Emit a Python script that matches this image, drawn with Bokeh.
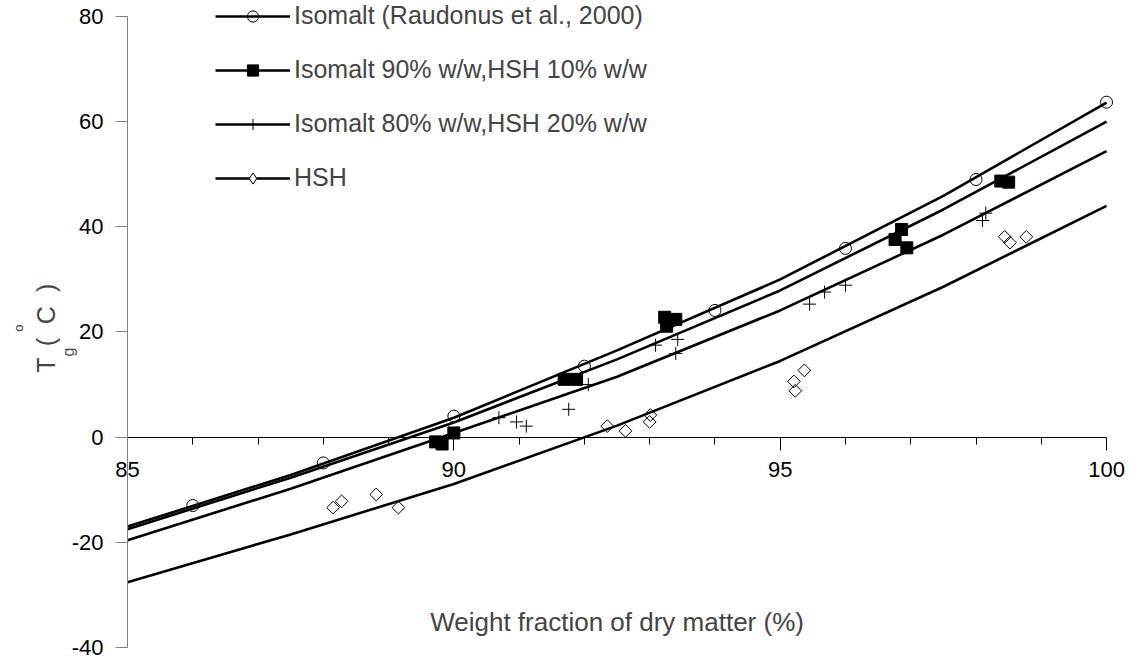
from math import pi
from bokeh.plotting import figure
from bokeh.models import Label, Legend, LegendItem, FixedTicker
from bokeh.embed import file_html
from bokeh.resources import INLINE

# fitted curves
curve_x = [85, 87.5, 90, 92.5, 95, 97.5, 100]
fit_isomalt = [-17.0, -7.2, 3.7, 16.5, 30.0, 45.9, 63.6]
fit_90 = [-17.5, -7.7, 2.8, 14.8, 27.9, 43.3, 60.0]
fit_80 = [-19.6, -9.8, 0.8, 11.5, 24.1, 38.5, 54.4]
fit_hsh = [-27.6, -18.5, -8.9, 2.2, 14.5, 28.6, 44.0]

# measured points
iso_x = [86, 88, 90, 92, 94, 96, 98, 100]
iso_y = [-13.0, -4.9, 4.0, 13.5, 24.1, 35.9, 49.0, 63.7]

m90_x = [89.72, 89.82, 90.0, 91.69, 91.88, 93.23, 93.26, 93.4, 96.76, 96.86, 96.94, 98.38, 98.5]
m90_y = [-0.9, -1.3, 0.8, 11.0, 11.0, 22.8, 21.1, 22.4, 37.6, 39.5, 36.0, 48.7, 48.5]

m80_x = [90.69, 90.96, 91.11, 91.76, 92.06, 93.09, 93.43, 93.4, 95.45, 95.68, 96.0, 98.1, 98.15]
m80_y = [3.7, 2.9, 2.1, 5.3, 10.0, 17.5, 18.6, 15.9, 25.3, 27.6, 28.9, 41.2, 42.6]

hsh_x = [88.15, 88.28, 88.81, 89.15, 92.35, 92.63, 93.0, 93.01, 95.21, 95.23, 95.37, 98.44, 98.52, 98.77]
hsh_y = [-13.4, -12.2, -10.9, -13.4, 2.1, 1.2, 2.9, 4.2, 10.6, 8.8, 12.7, 38.1, 37.0, 38.1]

labels = ["Isomalt (Raudonus et al., 2000)", "Isomalt 90% w/w,HSH 10% w/w",
          "Isomalt 80% w/w,HSH 20% w/w", "HSH"]

x_major = [85, 90, 95, 100]
x_minor = [86, 87, 88, 89, 91, 92, 93, 94, 96, 97, 98, 99]
y_major = [-40, -20, 0, 20, 40, 60, 80]

FONT = "Liberation Sans"
TICK_FS = "22px"
TEXT_FS = "25px"

p = figure(width=1130, height=660, x_range=(83.054, 100.367), y_range=(-42.47, 83.04),
           output_backend="svg", toolbar_location=None,
           min_border_left=0, min_border_right=0, min_border_top=0, min_border_bottom=0)
p.outline_line_color = None
p.xgrid.visible = False
p.ygrid.visible = False
p.background_fill_color = "white"

xa = p.xaxis[0]
xa.fixed_location = 0
xa.bounds = (85, 100)
xa.ticker = FixedTicker(ticks=x_major, minor_ticks=x_minor)
xa.major_tick_out = 13
xa.major_tick_in = 0
xa.minor_tick_out = 7
xa.minor_tick_in = 0
xa.axis_line_color = "black"
xa.major_tick_line_color = "black"
xa.minor_tick_line_color = "black"
xa.major_label_text_font = FONT
xa.major_label_text_font_size = TICK_FS
xa.major_label_text_color = "black"
xa.major_label_standoff = 12

ya = p.yaxis[0]
ya.fixed_location = 85
ya.bounds = (-40, 80)
ya.ticker = FixedTicker(ticks=y_major)
ya.major_tick_out = 12
ya.major_tick_in = 0
ya.minor_tick_out = 0
ya.minor_tick_in = 0
ya.axis_line_color = "#808080"
ya.major_tick_line_color = "#808080"
ya.major_label_text_font = FONT
ya.major_label_text_font_size = TICK_FS
ya.major_label_text_color = "black"
ya.major_label_standoff = 12
ya.major_label_overrides = {t: str(t) for t in y_major}

lw = 2.6
r1 = p.line(curve_x, fit_isomalt, line_color="black", line_width=lw)
s1 = p.scatter(iso_x, iso_y, marker="circle", size=12, fill_color="white", fill_alpha=0,
               line_color="black", line_width=1)
r2 = p.line(curve_x, fit_90, line_color="black", line_width=lw)
s2 = p.scatter(m90_x, m90_y, marker="square", size=12, fill_color="black", line_color="black")
r3 = p.line(curve_x, fit_80, line_color="black", line_width=lw)
s3 = p.scatter(m80_x, m80_y, marker="cross", size=13, line_color="black", line_width=1)
r4 = p.line(curve_x, fit_hsh, line_color="black", line_width=lw)
s4 = p.scatter(hsh_x, hsh_y, marker="square", angle=pi / 4, size=9, fill_color="white",
               fill_alpha=0, line_color="black", line_width=1)
# hidden diamond renderer of the same points, used only for the legend glyph
s4_leg = p.scatter(hsh_x, hsh_y, marker="diamond", size=13, fill_color="white",
                   line_color="black", line_width=1, visible=False)

legend = Legend(items=[LegendItem(label=labels[0], renderers=[r1, s1]),
                       LegendItem(label=labels[1], renderers=[r2, s2]),
                       LegendItem(label=labels[2], renderers=[r3, s3]),
                       LegendItem(label=labels[3], renderers=[r4, s4_leg])],
                location=(215, 468), padding=0, margin=0, spacing=25,
                glyph_width=75, glyph_height=28, label_height=28, label_standoff=4,
                label_text_font=FONT, label_text_font_size=TEXT_FS,
                inactive_fill_alpha=0,
                background_fill_alpha=0, border_line_color=None)
p.add_layout(legend)

p.add_layout(Label(x=92.5, y=-35.2, text="Weight fraction of dry matter (%)",
                   text_align="center", text_baseline="middle",
                   text_font=FONT, text_font_size="26px"))

# y-axis title pieces: T, subscript g, superscript o, ( C )
def ylab(x, y, txt, fs):
    p.add_layout(Label(x=x, y=y, text=txt, angle=pi / 2, text_align="center",
                       text_baseline="alphabetic", text_font=FONT, text_font_size=fs))

ylab(83.744, 13.69, "T", TEXT_FS)
ylab(83.744, 18.07, "(", TEXT_FS)
ylab(83.744, 23.2, "C", TEXT_FS)
ylab(83.744, 28.4, ")", TEXT_FS)
ylab(83.330, 20.73, "o", "13px")
ylab(84.096, 16.17, "g", "16px")

open("out.html", "w").write(file_html(p, INLINE))
